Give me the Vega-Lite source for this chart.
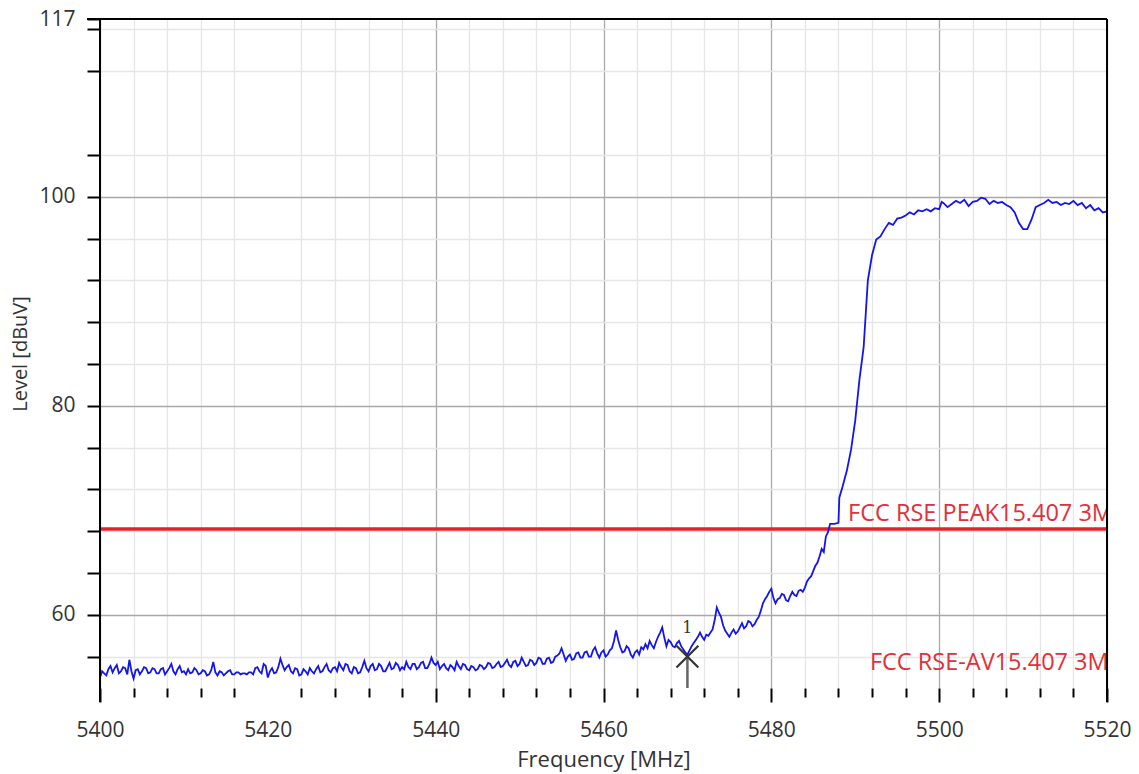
{
  "$schema": "https://vega.github.io/schema/vega-lite/v6.json",
  "width": 1007,
  "height": 669,
  "autosize": "none",
  "padding": {"left": 100, "top": 19, "right": 32, "bottom": 86},
  "background": "white",
  "config": {
    "view": {"stroke": null},
    "font": "Open Sans"
  },
  "datasets": {
    "trace": [
      {"f":5400,"v":54.0},{"f":5400.25,"v":54.6},{"f":5400.5,"v":54.4},{"f":5400.75,"v":54.2},{"f":5401,"v":54.8},{"f":5401.25,"v":55.1},{"f":5401.5,"v":54.5},{"f":5401.75,"v":54.9},
      {"f":5402,"v":55.2},{"f":5402.25,"v":54.4},{"f":5402.5,"v":54.6},{"f":5402.75,"v":55.0},{"f":5403,"v":54.9},{"f":5403.25,"v":54.3},{"f":5403.5,"v":55.7},{"f":5403.75,"v":54.6},
      {"f":5404,"v":53.9},{"f":5404.25,"v":54.7},{"f":5404.5,"v":54.8},{"f":5404.75,"v":54.3},{"f":5405,"v":54.6},{"f":5405.25,"v":55.0},{"f":5405.5,"v":54.9},{"f":5405.75,"v":54.4},
      {"f":5406,"v":54.5},{"f":5406.25,"v":54.9},{"f":5406.5,"v":54.8},{"f":5406.75,"v":54.4},{"f":5407,"v":54.4},{"f":5407.25,"v":54.8},{"f":5407.5,"v":54.9},{"f":5407.75,"v":54.3},
      {"f":5408,"v":54.6},{"f":5408.25,"v":54.9},{"f":5408.5,"v":55.3},{"f":5408.75,"v":54.6},{"f":5409,"v":54.3},{"f":5409.25,"v":54.8},{"f":5409.5,"v":55.1},{"f":5409.75,"v":54.5},
      {"f":5410,"v":54.6},{"f":5410.25,"v":54.3},{"f":5410.5,"v":54.8},{"f":5410.75,"v":54.4},{"f":5411,"v":54.5},{"f":5411.25,"v":54.9},{"f":5411.5,"v":54.7},{"f":5411.75,"v":54.3},
      {"f":5412,"v":54.4},{"f":5412.25,"v":54.7},{"f":5412.5,"v":54.6},{"f":5412.75,"v":54.2},{"f":5413,"v":54.3},{"f":5413.25,"v":54.7},{"f":5413.5,"v":55.5},{"f":5413.75,"v":54.5},
      {"f":5414,"v":54.2},{"f":5414.25,"v":54.6},{"f":5414.5,"v":54.5},{"f":5414.75,"v":54.2},{"f":5415,"v":54.4},{"f":5415.25,"v":54.6},{"f":5415.5,"v":54.7},{"f":5415.75,"v":54.3},
      {"f":5416,"v":54.3},{"f":5416.25,"v":54.5},{"f":5416.5,"v":54.5},{"f":5416.75,"v":54.3},{"f":5417,"v":54.4},{"f":5417.25,"v":54.4},{"f":5417.5,"v":54.3},{"f":5417.75,"v":54.5},
      {"f":5418,"v":54.5},{"f":5418.25,"v":54.3},{"f":5418.5,"v":54.9},{"f":5418.75,"v":55.0},{"f":5419,"v":54.6},{"f":5419.25,"v":54.4},{"f":5419.5,"v":55.3},{"f":5419.75,"v":55.1},
      {"f":5420,"v":54.0},{"f":5420.25,"v":54.6},{"f":5420.5,"v":54.9},{"f":5420.75,"v":54.4},{"f":5421,"v":54.5},{"f":5421.25,"v":55.0},{"f":5421.5,"v":55.8},{"f":5421.75,"v":55.2},
      {"f":5422,"v":54.7},{"f":5422.25,"v":55.0},{"f":5422.5,"v":55.2},{"f":5422.75,"v":54.6},{"f":5423,"v":54.4},{"f":5423.25,"v":54.9},{"f":5423.5,"v":54.8},{"f":5423.75,"v":54.2},
      {"f":5424,"v":54.3},{"f":5424.25,"v":54.8},{"f":5424.5,"v":54.6},{"f":5424.75,"v":54.3},{"f":5425,"v":54.9},{"f":5425.25,"v":54.6},{"f":5425.5,"v":54.4},{"f":5425.75,"v":54.8},
      {"f":5426,"v":55.1},{"f":5426.25,"v":54.5},{"f":5426.5,"v":54.6},{"f":5426.75,"v":55.0},{"f":5427,"v":55.3},{"f":5427.25,"v":54.7},{"f":5427.5,"v":54.5},{"f":5427.75,"v":54.9},
      {"f":5428,"v":55.0},{"f":5428.25,"v":54.6},{"f":5428.5,"v":55.4},{"f":5428.75,"v":55.0},{"f":5429,"v":54.7},{"f":5429.25,"v":55.3},{"f":5429.5,"v":55.2},{"f":5429.75,"v":54.6},
      {"f":5430,"v":54.4},{"f":5430.25,"v":55.0},{"f":5430.5,"v":54.9},{"f":5430.75,"v":54.4},{"f":5431,"v":54.5},{"f":5431.25,"v":55.0},{"f":5431.5,"v":55.6},{"f":5431.75,"v":54.9},
      {"f":5432,"v":54.6},{"f":5432.25,"v":55.1},{"f":5432.5,"v":55.3},{"f":5432.75,"v":54.7},{"f":5433,"v":54.8},{"f":5433.25,"v":55.3},{"f":5433.5,"v":55.1},{"f":5433.75,"v":54.6},
      {"f":5434,"v":54.6},{"f":5434.25,"v":55.0},{"f":5434.5,"v":55.4},{"f":5434.75,"v":54.8},{"f":5435,"v":54.9},{"f":5435.25,"v":55.4},{"f":5435.5,"v":55.2},{"f":5435.75,"v":54.7},
      {"f":5436,"v":55.0},{"f":5436.25,"v":54.8},{"f":5436.5,"v":55.5},{"f":5436.75,"v":55.0},{"f":5437,"v":54.8},{"f":5437.25,"v":55.3},{"f":5437.5,"v":55.3},{"f":5437.75,"v":54.8},
      {"f":5438,"v":55.0},{"f":5438.25,"v":55.4},{"f":5438.5,"v":55.5},{"f":5438.75,"v":54.9},{"f":5439,"v":54.9},{"f":5439.25,"v":55.3},{"f":5439.5,"v":55.9},{"f":5439.75,"v":55.4},
      {"f":5440,"v":55.2},{"f":5440.25,"v":55.5},{"f":5440.5,"v":54.8},{"f":5440.75,"v":55.1},{"f":5441,"v":55.3},{"f":5441.25,"v":54.9},{"f":5441.5,"v":54.7},{"f":5441.75,"v":55.2},
      {"f":5442,"v":55.0},{"f":5442.25,"v":54.7},{"f":5442.5,"v":55.5},{"f":5442.75,"v":55.1},{"f":5443,"v":54.8},{"f":5443.25,"v":55.3},{"f":5443.5,"v":55.2},{"f":5443.75,"v":54.8},
      {"f":5444,"v":54.7},{"f":5444.25,"v":55.1},{"f":5444.5,"v":55.0},{"f":5444.75,"v":54.7},{"f":5445,"v":54.8},{"f":5445.25,"v":55.2},{"f":5445.5,"v":55.1},{"f":5445.75,"v":54.8},
      {"f":5446,"v":55.0},{"f":5446.25,"v":55.4},{"f":5446.5,"v":55.3},{"f":5446.75,"v":54.9},{"f":5447,"v":55.0},{"f":5447.25,"v":55.3},{"f":5447.5,"v":55.5},{"f":5447.75,"v":55.0},
      {"f":5448,"v":55.1},{"f":5448.25,"v":55.4},{"f":5448.5,"v":55.7},{"f":5448.75,"v":55.2},{"f":5449,"v":55.0},{"f":5449.25,"v":55.5},{"f":5449.5,"v":55.6},{"f":5449.75,"v":55.1},
      {"f":5450,"v":55.3},{"f":5450.25,"v":55.9},{"f":5450.5,"v":55.5},{"f":5450.75,"v":55.1},{"f":5451,"v":55.2},{"f":5451.25,"v":55.7},{"f":5451.5,"v":55.6},{"f":5451.75,"v":55.2},
      {"f":5452,"v":55.4},{"f":5452.25,"v":55.9},{"f":5452.5,"v":55.8},{"f":5452.75,"v":55.3},{"f":5453,"v":55.3},{"f":5453.25,"v":55.8},{"f":5453.5,"v":55.9},{"f":5453.75,"v":55.4},
      {"f":5454,"v":55.5},{"f":5454.25,"v":56.0},{"f":5454.5,"v":56.1},{"f":5454.75,"v":56.3},{"f":5455,"v":56.8},{"f":5455.25,"v":56.2},{"f":5455.5,"v":55.6},{"f":5455.75,"v":56.0},
      {"f":5456,"v":56.2},{"f":5456.25,"v":55.7},{"f":5456.5,"v":55.8},{"f":5456.75,"v":56.3},{"f":5457,"v":56.4},{"f":5457.25,"v":55.9},{"f":5457.5,"v":55.9},{"f":5457.75,"v":56.4},
      {"f":5458,"v":56.5},{"f":5458.25,"v":56.0},{"f":5458.5,"v":56.0},{"f":5458.75,"v":56.6},{"f":5459,"v":56.9},{"f":5459.25,"v":56.3},{"f":5459.5,"v":55.9},{"f":5459.75,"v":56.4},
      {"f":5460,"v":56.6},{"f":5460.25,"v":56.0},{"f":5460.5,"v":56.2},{"f":5460.75,"v":56.6},{"f":5461,"v":56.8},{"f":5461.25,"v":57.5},{"f":5461.5,"v":58.5},{"f":5461.75,"v":57.6},
      {"f":5462,"v":56.9},{"f":5462.25,"v":56.4},{"f":5462.5,"v":56.5},{"f":5462.75,"v":57.0},{"f":5463,"v":56.8},{"f":5463.25,"v":56.2},{"f":5463.5,"v":55.9},{"f":5463.75,"v":56.4},
      {"f":5464,"v":56.6},{"f":5464.25,"v":56.2},{"f":5464.5,"v":56.9},{"f":5464.75,"v":56.7},{"f":5465,"v":57.2},{"f":5465.25,"v":56.8},{"f":5465.5,"v":57.5},{"f":5465.75,"v":57.1},
      {"f":5466,"v":56.8},{"f":5466.25,"v":57.4},{"f":5466.5,"v":57.9},{"f":5466.75,"v":58.3},{"f":5467,"v":58.8},{"f":5467.25,"v":57.8},{"f":5467.5,"v":57.0},{"f":5467.75,"v":57.6},
      {"f":5468,"v":57.4},{"f":5468.25,"v":57.0},{"f":5468.5,"v":56.9},{"f":5468.75,"v":57.3},{"f":5469,"v":57.5},{"f":5469.25,"v":57.0},{"f":5469.5,"v":56.7},{"f":5469.75,"v":56.4},
      {"f":5470,"v":56.2},{"f":5470.25,"v":56.6},{"f":5470.5,"v":57.0},{"f":5470.75,"v":57.3},{"f":5471,"v":57.6},{"f":5471.25,"v":57.9},{"f":5471.5,"v":58.3},{"f":5471.75,"v":57.9},
      {"f":5472,"v":57.6},{"f":5472.25,"v":58.1},{"f":5472.5,"v":58.0},{"f":5472.75,"v":58.3},{"f":5473,"v":58.6},{"f":5473.25,"v":59.5},{"f":5473.5,"v":60.7},{"f":5473.75,"v":60.2},
      {"f":5474,"v":59.8},{"f":5474.25,"v":59.0},{"f":5474.5,"v":58.5},{"f":5474.75,"v":58.2},{"f":5475,"v":57.9},{"f":5475.25,"v":58.3},{"f":5475.5,"v":58.6},{"f":5475.75,"v":58.2},
      {"f":5476,"v":58.4},{"f":5476.25,"v":58.8},{"f":5476.5,"v":59.2},{"f":5476.75,"v":58.7},{"f":5477,"v":58.9},{"f":5477.25,"v":59.4},{"f":5477.5,"v":59.3},{"f":5477.75,"v":58.9},
      {"f":5478,"v":59.1},{"f":5478.25,"v":59.5},{"f":5478.5,"v":59.8},{"f":5478.75,"v":60.4},{"f":5479,"v":61.1},{"f":5479.25,"v":61.5},{"f":5479.5,"v":61.8},{"f":5479.75,"v":62.2},
      {"f":5480,"v":62.5},{"f":5480.25,"v":61.6},{"f":5480.5,"v":61.1},{"f":5480.75,"v":61.5},{"f":5481,"v":61.6},{"f":5481.25,"v":62.0},{"f":5481.5,"v":61.9},{"f":5481.75,"v":61.4},
      {"f":5482,"v":61.3},{"f":5482.25,"v":61.8},{"f":5482.5,"v":62.2},{"f":5482.75,"v":61.9},{"f":5483,"v":61.8},{"f":5483.25,"v":62.3},{"f":5483.5,"v":62.4},{"f":5483.75,"v":62.2},
      {"f":5484,"v":62.6},{"f":5484.25,"v":63.2},{"f":5484.5,"v":63.5},{"f":5484.75,"v":63.7},{"f":5485,"v":64.2},{"f":5485.25,"v":64.7},{"f":5485.5,"v":65.0},{"f":5485.75,"v":65.6},
      {"f":5486,"v":66.3},{"f":5486.25,"v":66.0},{"f":5486.5,"v":67.5},{"f":5486.75,"v":67.9},{"f":5487,"v":68.7},{"f":5487.5,"v":68.7},{"f":5488,"v":68.8},{"f":5488.1,"v":71.2},
      {"f":5488.5,"v":72.3},{"f":5489,"v":73.8},{"f":5489.5,"v":75.8},{"f":5490,"v":78.6},{"f":5490.5,"v":82.5},{"f":5491,"v":85.6},{"f":5491.5,"v":92.0},{"f":5492,"v":94.4},
      {"f":5492.5,"v":95.9},{"f":5493,"v":96.2},{"f":5493.5,"v":96.9},{"f":5494,"v":97.5},{"f":5494.5,"v":97.3},{"f":5495,"v":97.9},{"f":5495.5,"v":98.0},{"f":5496,"v":98.2},
      {"f":5496.5,"v":98.5},{"f":5497,"v":98.3},{"f":5497.5,"v":98.7},{"f":5498,"v":98.6},{"f":5498.5,"v":98.8},{"f":5499,"v":98.6},{"f":5499.5,"v":98.9},{"f":5500,"v":98.8},
      {"f":5500.3,"v":99.5},{"f":5500.5,"v":99.4},{"f":5501,"v":99.0},{"f":5501.5,"v":99.3},{"f":5502,"v":99.6},{"f":5502.5,"v":99.4},{"f":5503,"v":99.7},{"f":5503.5,"v":99.1},
      {"f":5504,"v":99.5},{"f":5504.5,"v":99.6},{"f":5505,"v":99.9},{"f":5505.5,"v":99.8},{"f":5506,"v":99.3},{"f":5506.5,"v":99.6},{"f":5507,"v":99.4},{"f":5507.5,"v":99.5},
      {"f":5508,"v":99.2},{"f":5508.5,"v":99.0},{"f":5509,"v":98.5},{"f":5509.5,"v":97.5},{"f":5510,"v":96.9},{"f":5510.5,"v":96.9},{"f":5511,"v":97.8},{"f":5511.5,"v":99.0},
      {"f":5512,"v":99.2},{"f":5512.5,"v":99.4},{"f":5513,"v":99.7},{"f":5513.5,"v":99.4},{"f":5514,"v":99.5},{"f":5514.5,"v":99.2},{"f":5515,"v":99.4},{"f":5515.5,"v":99.3},
      {"f":5516,"v":99.6},{"f":5516.5,"v":99.2},{"f":5517,"v":99.4},{"f":5517.5,"v":98.9},{"f":5518,"v":99.2},{"f":5518.5,"v":98.7},{"f":5519,"v":98.9},{"f":5519.5,"v":98.5},
      {"f":5520,"v":98.6}
    ],
    "marker": [{"id": "1", "f": 5470, "v": 56}]
  },
  "data": {"name": "trace"},
  "layer": [
    {
      "mark": {"type": "line", "opacity": 0},
      "encoding": {
        "x": {
          "field": "f", "type": "quantitative",
          "scale": {"domain": [5400, 5520], "nice": false, "zero": false},
          "axis": {
            "title": "Frequency [MHz]",
            "values": [5400,5404,5408,5412,5416,5420,5424,5428,5432,5436,5440,5444,5448,5452,5456,5460,5464,5468,5472,5476,5480,5484,5488,5492,5496,5500,5504,5508,5512,5516,5520],
            "tickCount": 31,
            "format": "d",
            "labelExpr": "indexof([5400,5420,5440,5460,5480,5500,5520], datum.value) >= 0 ? datum.label : ''",
            "labelOverlap": false,
            "labelFontSize": 21, "labelColor": "#333333", "labelPadding": 17, "labelFlush": false,
            "titleFontSize": 22, "titleColor": "#333333", "titleFontWeight": "normal", "titlePadding": 9,
            "domain": false,
            "tickColor": "#000000", "tickWidth": 2,
            "tickSize": {"condition": {"test": "indexof([5400,5420,5440,5460,5480,5500,5520], datum.value) >= 0", "value": 14}, "value": 9},
            "tickOpacity": {"condition": {"test": "datum.value === 5420", "value": 0}, "value": 1},
            "grid": true,
            "gridColor": {"condition": {"test": "indexof([5400,5420,5440,5460,5480,5500,5520], datum.value) >= 0", "value": "#a8a8a8"}, "value": "#e6e6e6"},
            "gridOpacity": {"condition": {"test": "datum.value === 5420", "value": 0}, "value": 1},
            "gridWidth": 1.3
          }
        },
        "y": {
          "field": "v", "type": "quantitative",
          "scale": {"domain": [53, 117], "nice": false, "zero": false},
          "axis": {
            "title": "Level [dBuV]",
            "values": [56,60,64,68,72,76,80,84,88,92,96,100,104,112,116,117],
            "tickCount": 16,
            "format": "d",
            "labelExpr": "indexof([60,80,100,117], datum.value) >= 0 ? datum.label : ''",
            "labelOverlap": false,
            "labelFontSize": 21, "labelColor": "#333333", "labelPadding": 12,
            "titleFontSize": 20, "titleColor": "#333333", "titleFontWeight": "normal", "titlePadding": 8,
            "domain": false,
            "tickColor": "#000000", "tickWidth": 2, "tickSize": 13,
            "grid": true,
            "gridColor": {"condition": {"test": "indexof([60,80,100], datum.value) >= 0", "value": "#a8a8a8"}, "value": "#e6e6e6"},
            "gridOpacity": {"condition": {"test": "datum.value === 117", "value": 0}, "value": 1},
            "gridWidth": 1.3
          }
        }
      }
    },
    {
      "data": {"values": [{}]},
      "mark": {"type": "rule", "color": "#e8202a", "strokeWidth": 3.5},
      "encoding": {"y": {"datum": 68.2}}
    },
    {
      "mark": {"type": "line", "color": "#1414ee", "strokeWidth": 1.8, "clip": true},
      "encoding": {
        "x": {"field": "f", "type": "quantitative"},
        "y": {"field": "v", "type": "quantitative"}
      }
    },
    {
      "data": {"values": [{}]},
      "mark": {"type": "text", "text": "FCC RSE PEAK15.407 3M", "align": "left", "baseline": "middle", "fontSize": 23.5, "color": "#e0303a", "clip": true},
      "encoding": {"x": {"datum": 5489.15}, "y": {"datum": 69.65}}
    },
    {
      "data": {"values": [{}]},
      "mark": {"type": "text", "text": "FCC RSE-AV15.407 3M", "align": "left", "baseline": "middle", "fontSize": 23.5, "color": "#e0303a", "clip": true},
      "encoding": {"x": {"datum": 5491.75}, "y": {"datum": 55.4}}
    },
    {
      "data": {"name": "marker"},
      "mark": {"type": "rule", "color": "#666666", "strokeWidth": 2.5},
      "encoding": {"x": {"field": "f", "type": "quantitative"}, "y": {"field": "v", "type": "quantitative"}, "y2": {"datum": 53}}
    },
    {
      "data": {"name": "marker"},
      "mark": {"type": "point", "shape": "M-1,-1L1,1M-1,1L1,-1", "filled": false, "stroke": "#333333", "strokeWidth": 2.2, "size": 480, "opacity": 1},
      "encoding": {"x": {"field": "f", "type": "quantitative"}, "y": {"field": "v", "type": "quantitative"}}
    },
    {
      "data": {"name": "marker"},
      "mark": {"type": "text", "font": "DejaVu Serif", "fontSize": 16, "color": "#333333", "dy": -29},
      "encoding": {"x": {"field": "f", "type": "quantitative"}, "y": {"field": "v", "type": "quantitative"}, "text": {"field": "id"}}
    },
    {
      "data": {"values": [{}]},
      "mark": {"type": "rule", "color": "#000000", "strokeWidth": 2},
      "encoding": {"x": {"datum": 5400}, "y": {"datum": 51.66}, "y2": {"datum": 117}}
    },
    {
      "data": {"values": [{}]},
      "mark": {"type": "rule", "color": "#000000", "strokeWidth": 2},
      "encoding": {"x": {"datum": 5520}, "y": {"datum": 51.66}, "y2": {"datum": 117}}
    },
    {
      "data": {"values": [{}]},
      "mark": {"type": "rule", "color": "#000000", "strokeWidth": 2},
      "encoding": {"x": {"datum": 5398.45}, "x2": {"datum": 5520}, "y": {"datum": 117}}
    }
  ]
}
